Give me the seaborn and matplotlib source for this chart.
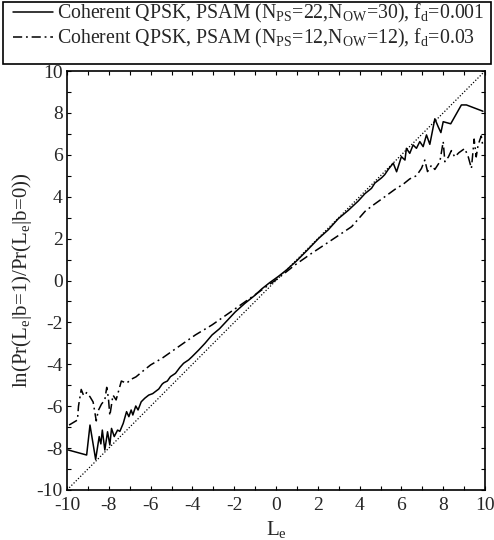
import matplotlib
matplotlib.use("Agg")
import matplotlib.pyplot as plt
import seaborn as sns
import pandas as pd
from matplotlib.ticker import MultipleLocator
from matplotlib.patches import Rectangle

# ---- data ----
solid_x = [-9.94, -9.06, -8.9, -8.63, -8.46, -8.38, -8.31, -8.19, -8.06, -7.95, -7.87, -7.74,
           -7.58, -7.47, -7.31, -7.15, -7.04, -6.93, -6.85, -6.71, -6.6, -6.45, -6.28, -6.09,
           -5.9, -5.77, -5.61, -5.45, -5.37, -5.2, -5.05, -4.81, -4.6, -4.42, -4.18, -4.02,
           -3.7, -3.4, -3.06, -2.7, -2.4, -1.95, -1.5, -1.0, -0.68, -0.3, 0.12, 0.5, 1.0,
           1.5, 2.03, 2.5, 2.98, 3.46, 3.94, 4.26, 4.57, 4.73, 5.05, 5.2, 5.37, 5.61, 5.77,
           6.0, 6.17, 6.24, 6.4, 6.56, 6.72, 6.88, 7.04, 7.2, 7.36, 7.6, 7.76, 7.89, 8.0,
           8.36, 8.87, 9.11, 9.9]
solid_y = [-8.09, -8.33, -6.9, -8.54, -7.45, -7.8, -7.14, -8.09, -7.22, -7.85, -7.06, -7.45,
           -7.14, -7.2, -6.82, -6.26, -6.5, -6.18, -6.42, -5.99, -6.18, -5.79, -5.62, -5.47,
           -5.4, -5.3, -5.18, -4.95, -4.88, -4.8, -4.59, -4.43, -4.15, -3.95, -3.79, -3.64,
           -3.32, -3.0, -2.6, -2.3, -1.98, -1.5, -1.1, -0.7, -0.4, -0.1, 0.2, 0.5, 0.95,
           1.45, 2.0, 2.42, 2.95, 3.35, 3.8, 4.15, 4.4, 4.65, 4.9, 5.05, 5.3, 5.6, 5.19,
           5.91, 5.75, 6.31, 6.07, 6.47, 6.31, 6.63, 6.39, 6.95, 6.5, 7.72, 7.34, 7.06, 7.58,
           7.48, 8.38, 8.38, 8.08]

dash_x = [-9.9, -9.5, -9.45, -9.32, -9.2, -9.06, -8.9, -8.75, -8.6, -8.5, -8.35, -8.19, -8.1,
          -8.02, -7.95, -7.8, -7.65, -7.4, -7.15, -6.9, -6.7, -6.4, -6.0, -5.45, -4.65, -3.86,
          -3.06, -2.27, -1.47, -0.68, 0.12, 0.92, 1.71, 2.66, 3.62, 4.26, 4.65, 5.21, 5.69,
          6.09, 6.4, 6.72, 6.96, 7.12, 7.25, 7.44, 7.6, 7.84, 8.0, 8.08, 8.25, 8.39, 8.55,
          8.75, 9.03, 9.2, 9.35, 9.48, 9.58, 9.67, 9.82, 9.9]
dash_y = [-6.9, -6.66, -6.0, -5.2, -5.5, -5.35, -5.55, -5.8, -6.7, -6.2, -5.9, -5.7, -5.1,
          -5.6, -6.45, -5.47, -5.7, -4.8, -4.9, -4.7, -4.6, -4.35, -4.03, -3.71, -3.15, -2.6,
          -2.12, -1.57, -1.01, -0.45, 0.12, 0.75, 1.3, 1.93, 2.57, 3.3, 3.6, 4.0, 4.35,
          4.6, 4.85, 5.0, 5.35, 5.75, 5.2, 5.5, 5.3, 5.67, 6.63, 5.67, 5.9, 6.2, 5.9,
          6.1, 6.3, 5.9, 5.35, 6.75, 5.9, 6.47, 6.9, 6.4]

ref_x = [-10, 10]
ref_y = [-10, 10]

label_solid = r"Coherent QPSK, PSAM (N$_{\mathrm{PS}}$=22,N$_{\mathrm{OW}}$=30), f$_{\mathrm{d}}$=0.001"
label_dash = r"Coherent QPSK, PSAM (N$_{\mathrm{PS}}$=12,N$_{\mathrm{OW}}$=12), f$_{\mathrm{d}}$=0.03"
ticks = [-10, -8, -6, -4, -2, 0, 2, 4, 6, 8, 10]

# ---- style ----
sns.set_style("ticks")
plt.rcParams['font.family'] = ['Liberation Serif', 'DejaVu Serif']
plt.rcParams['mathtext.fontset'] = 'custom'
plt.rcParams['mathtext.rm'] = 'Liberation Serif'
plt.rcParams['mathtext.it'] = 'Liberation Serif:italic'

W, H = 494, 540
fig = plt.figure(figsize=(W / 100, H / 100), dpi=100)
ax = fig.add_axes([67 / W, 1 - 490 / H, (485 - 67) / W, (490 - 71) / H])

df_s = pd.DataFrame({"x": solid_x, "y": solid_y})
df_d = pd.DataFrame({"x": dash_x, "y": dash_y})
df_r = pd.DataFrame({"x": ref_x, "y": ref_y})

sns.lineplot(data=df_s, x="x", y="y", ax=ax, color="black", lw=1.1,
             estimator=None, sort=False, label=label_solid)
sns.lineplot(data=df_d, x="x", y="y", ax=ax, color="black", lw=1.1,
             estimator=None, sort=False, label=label_dash)
ax.lines[-1].set_dashes((6, 2.5, 1.2, 2.5))
sns.lineplot(data=df_r, x="x", y="y", ax=ax, color="black", lw=0.9,
             estimator=None, sort=False)
ax.lines[-1].set_linestyle((0, (1, 1.5)))

ax.set_xlim(-10, 10)
ax.set_ylim(-10, 10)
ax.set_xticks(ticks)
ax.set_yticks(ticks)
ax.set_xticklabels([str(t) for t in ticks])
ax.set_yticklabels([str(t) for t in ticks])
ax.xaxis.set_minor_locator(MultipleLocator(1))
ax.yaxis.set_minor_locator(MultipleLocator(1))
ax.tick_params(which='both', direction='in', top=True, right=True, length=3,
               width=0.8, labelsize=14, color='black')
ax.tick_params(axis='x', pad=5)
ax.tick_params(axis='y', pad=3)
for sp in ax.spines.values():
    sp.set_visible(True)
    sp.set_linewidth(1.2)
    sp.set_color('black')

ax.set_xlabel(r"L$_{\mathrm{e}}$", fontsize=15, labelpad=4)
ax.set_ylabel(r"ln(Pr(L$_{\mathrm{e}}$|b=1)/Pr(L$_{\mathrm{e}}$|b=0))", fontsize=15, labelpad=2)

ax.get_legend().remove()
h, l = ax.get_legend_handles_labels()
leg = fig.legend(h, l, loc='upper left', bbox_to_anchor=(13 / W, 1 - 2 / H),
                 fontsize=14.3, frameon=False, handlelength=2.0, handletextpad=0.2,
                 borderpad=0.0, labelspacing=0.12, borderaxespad=0)
# legend frame, spanning the top band as in the reference
fig.patches.append(Rectangle((3 / W, 1 - 64 / H), (491 - 3) / W, (64 - 2) / H,
                             transform=fig.transFigure, fill=False,
                             edgecolor='black', linewidth=1.2))

fig.savefig("out.png", dpi=100)
